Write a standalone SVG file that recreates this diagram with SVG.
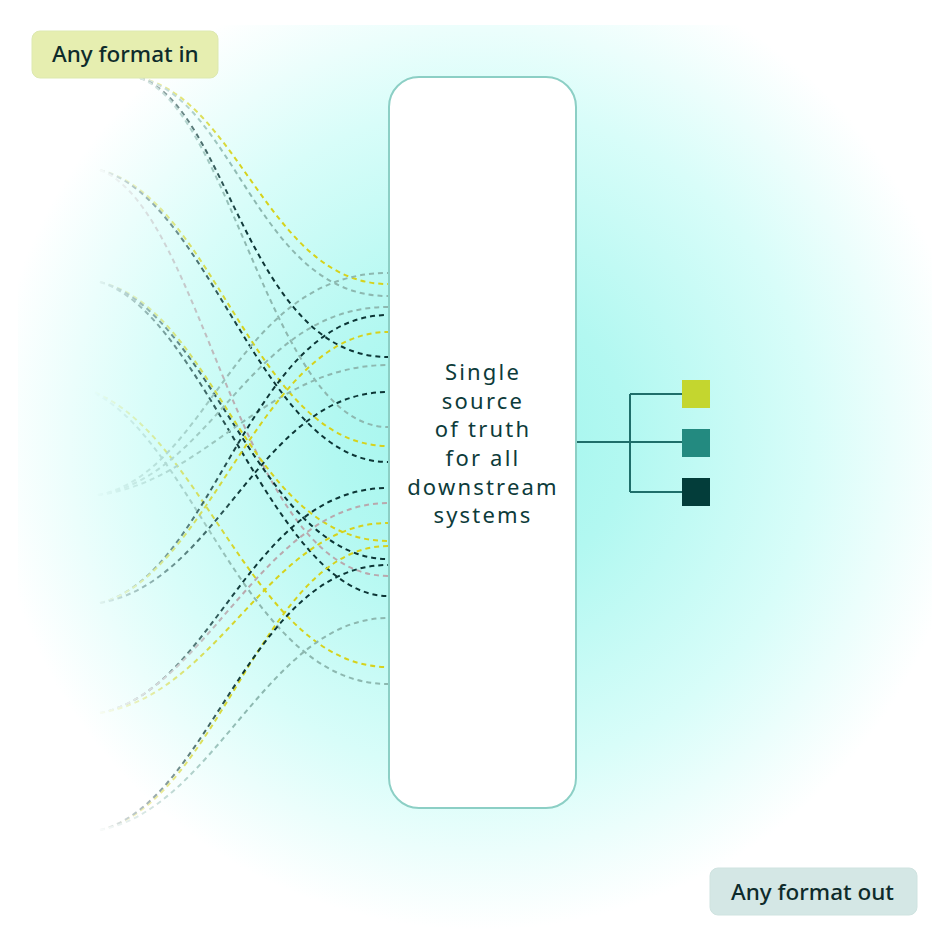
<svg xmlns="http://www.w3.org/2000/svg" width="950" height="950" viewBox="0 0 950 950">
<style>
.c{fill:none;stroke-width:2;stroke-dasharray:5 4}
.y{stroke:#d6d21c}
.d{stroke:#0d3636}
.g{stroke:#8db8b0}
.p{stroke:#b9a8ad}
.lbl{font-family:"Noto Sans","Liberation Sans",sans-serif;font-size:22.5px;font-weight:500;fill:#0e2b2b}
.main{font-family:"Noto Sans","Liberation Sans",sans-serif;font-size:22px;font-weight:400;fill:#0d3b3a;letter-spacing:2.2px;text-anchor:middle}
.w{fill:none;stroke:#1f6e6a;stroke-width:2}
</style>
<defs>
<radialGradient id="bg" cx="480" cy="440" r="490" gradientUnits="userSpaceOnUse">
<stop offset="0" stop-color="#9ff5ec"/>
<stop offset="0.3" stop-color="#b2f8f1"/>
<stop offset="0.68" stop-color="#d8fdf9"/>
<stop offset="1" stop-color="#ffffff"/>
</radialGradient>
<linearGradient id="fadeG" x1="92" y1="0" x2="245" y2="0" gradientUnits="userSpaceOnUse">
<stop offset="0" stop-color="#fff" stop-opacity="0"/>
<stop offset="1" stop-color="#fff" stop-opacity="1"/>
</linearGradient>
<mask id="fade" maskUnits="userSpaceOnUse" x="0" y="0" width="950" height="950">
<rect x="0" y="0" width="950" height="950" fill="url(#fadeG)"/>
</mask>
</defs>
<rect x="0" y="0" width="950" height="950" fill="#ffffff"/>
<rect x="18" y="25" width="914" height="910" fill="url(#bg)"/>
<g id="connectors">
<g mask="url(#fade)">
<path class="c y" d="M140,78 C239,99 270,284 388,284"/>
<path class="c g" d="M140,78 C235,100 258,296 388,296"/>
<path class="c d" d="M140,78 C228,106 248,357 388,357"/>
<path class="c g" d="M140,78 C232,113 272,427 388,427"/>
<path class="c y" d="M100,170 C215,198 255,446 388,446"/>
<path class="c d" d="M100,170 C210,199 262,462 388,462"/>
<path class="c p" d="M100,170 C205,211 240,576 388,576"/>
<path class="c y" d="M100,282 C215,308 248,541 388,541"/>
<path class="c d" d="M100,282 C210,310 262,559 388,559"/>
<path class="c d" d="M100,282 C205,313 275,596 388,596"/>
<path class="c y" d="M78,387 C200,415 250,667 388,667"/>
<path class="c g" d="M78,387 C190,417 240,684 388,684"/>
<path class="c g" d="M98,495 C210,473 235,273 388,273"/>
<path class="c g" d="M98,495 C215,476 250,307 388,307"/>
<path class="c g" d="M98,495 C205,482 268,365 388,365"/>
<path class="c d" d="M100,603 C215,574 250,315 388,315"/>
<path class="c y" d="M100,603 C210,576 262,332 388,332"/>
<path class="c d" d="M100,603 C220,582 260,392 388,392"/>
<path class="c d" d="M100,713 C215,690 250,488 388,488"/>
<path class="c p" d="M100,713 C205,692 265,503 388,503"/>
<path class="c y" d="M100,713 C220,694 270,523 388,523"/>
<path class="c y" d="M100,830 C220,802 262,546 388,546"/>
<path class="c d" d="M100,830 C210,803 250,565 388,565"/>
<path class="c g" d="M100,830 C215,809 268,618 388,618"/>
</g>
<path class="w" d="M577,442 H630 M630,394 V492 M630,394 H682 M630,442 H682 M630,492 H682"/>
</g>
<g id="label-in">
<rect x="32" y="31" width="186" height="47" rx="8" fill="#e6eeb0" stroke="#dde9b0" stroke-width="1"/>
<text class="lbl" x="52" y="62">Any format in</text>
</g>
<g id="hub">
<rect x="389" y="77" width="187" height="731" rx="30" fill="#ffffff" stroke="#8ccfc5" stroke-width="2"/>
<text class="main" x="483" y="380">Single</text>
<text class="main" x="483" y="409">source</text>
<text class="main" x="483" y="437">of truth</text>
<text class="main" x="483" y="466">for all</text>
<text class="main" x="483" y="495">downstream</text>
<text class="main" x="483" y="523">systems</text>
</g>
<g id="out-1"><rect x="682" y="380" width="28" height="28" fill="#c4d62f"/></g>
<g id="out-2"><rect x="682" y="429" width="28" height="28" fill="#238a80"/></g>
<g id="out-3"><rect x="682" y="478" width="28" height="28" fill="#033d3a"/></g>
<g id="label-out">
<rect x="710" y="868" width="207" height="47" rx="8" fill="#d4e7e5" stroke="#cfe3e0" stroke-width="1"/>
<text class="lbl" x="731" y="900">Any format out</text>
</g>
</svg>
